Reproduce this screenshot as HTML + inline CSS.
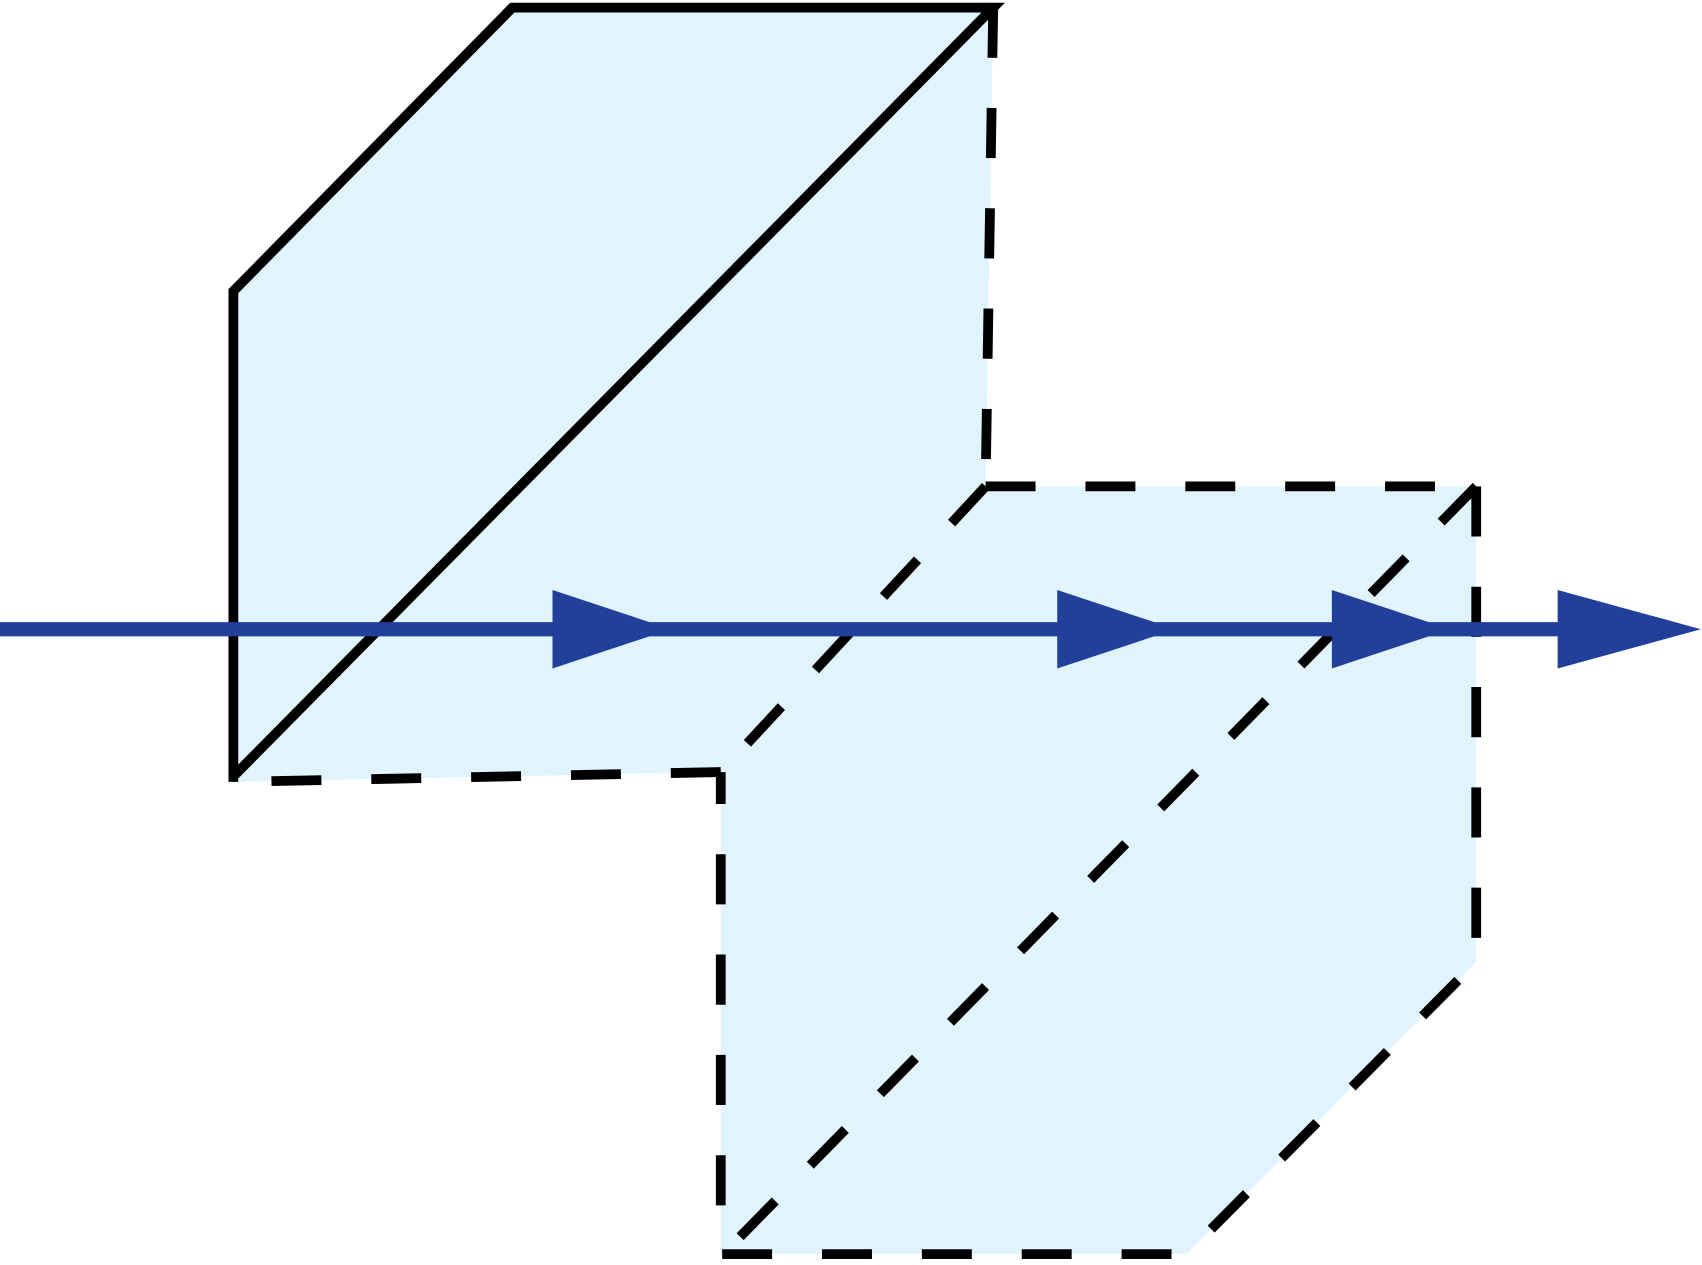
<!DOCTYPE html>
<html><head><meta charset="utf-8"><style>html,body{margin:0;padding:0;background:#fff}svg{display:block}</style></head>
<body>
<svg width="1702" height="1265" viewBox="0 0 1568 1160" preserveAspectRatio="none" xmlns="http://www.w3.org/2000/svg">
<polygon points="215,267 472,7 915,7 908,446 1360,446 1360,882 1093,1150 664,1150 664,708 215,717" fill="#e1f3fd"/>
<g fill="none" stroke="#000" stroke-width="9" stroke-dasharray="46,46">
<path d="M915,7 L908,446"/>
<path d="M908,446 L1360,446"/>
<path d="M1360,446 L1360,882 L1093,1150 L664,1150 L664,708"/>
<path d="M908,446 L664,708"/>
<path d="M664,708 L215,717"/>
<path d="M1360,446 L676,1140"/>
</g>
<g fill="none" stroke="#000" stroke-width="9" stroke-linejoin="miter">
<path d="M215,717 L215,267 L472,7 L915,7 L215,712"/>
</g>
<line x1="0" y1="577" x2="1440" y2="577" stroke="#22409a" stroke-width="13"/>
<g fill="#22409a">
<polygon points="509,541 618,577 509,613"/>
<polygon points="974,541 1083,577 974,613"/>
<polygon points="1227,541 1336,577 1227,613"/>
<polygon points="1435,541 1567,577 1435,613"/>
</g>
</svg>
</body></html>
